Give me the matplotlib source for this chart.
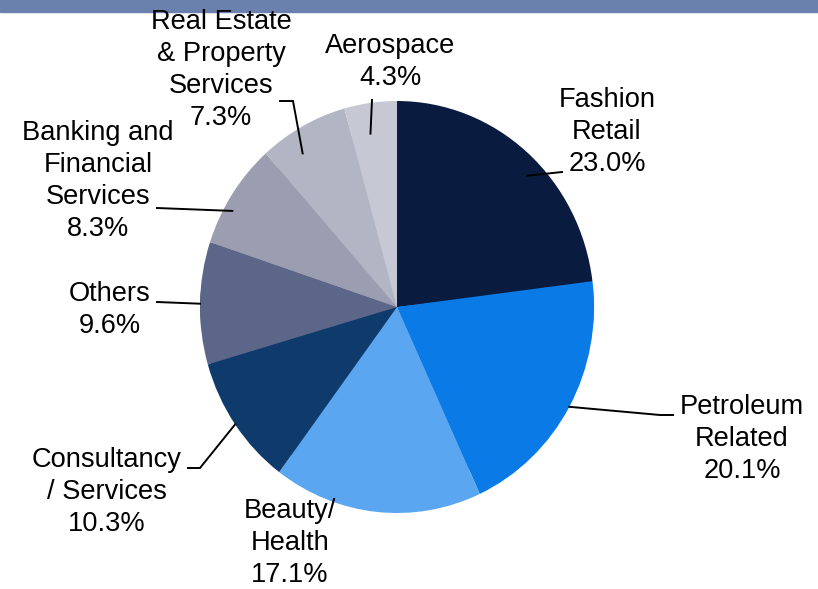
import matplotlib
matplotlib.use('Agg')
import matplotlib.pyplot as plt
import numpy as np

plt.rcParams['font.family'] = ['Liberation Sans', 'DejaVu Sans']

sectors = ['Fashion\nRetail', 'Petroleum\nRelated', 'Beauty/\nHealth',
           'Consultancy\n/ Services', 'Others', 'Banking and\nFinancial\nServices',
           'Real Estate\n& Property\nServices', 'Aerospace']
shares = [23.0, 20.1, 17.1, 10.3, 9.6, 8.3, 7.3, 4.3]
colors = ['#091c3f', '#0a7ae6', '#5aa6f0', '#0f3a6c',
          '#5b6688', '#9b9eb0', '#b2b5c3', '#c6c8d3']

W, H = 818, 589
fig = plt.figure(figsize=(W / 100, H / 100), dpi=100)

# banner strip along the top edge
fig.patches.append(plt.Rectangle((0, 1 - 12 / H), 1, 12 / H, transform=fig.transFigure,
                                 color='#6a80ad', zorder=0))

# pie centre and radii in pixels (image y measured from the top)
cx, cy = 397, 307
rx, ry_top, ry_bot = 197, 175, 206

def half_axes(bottom_px, height_px, ylim):
    a = fig.add_axes([(cx - rx) / W, bottom_px / H, 2 * rx / W, height_px / H])
    a.pie(shares, colors=colors, startangle=90, counterclock=False,
          wedgeprops=dict(linewidth=0))
    a.set_aspect('auto')
    a.set_xlim(-1, 1)
    a.set_ylim(*ylim)
    a.axis('off')
    return a

ax_top = half_axes(H - cy, ry_top, (0, 1))
ax_bot = half_axes(H - cy - ry_bot, ry_bot, (-1, 0))

# overlay for labels and leader lines, in image pixels
ov = fig.add_axes([0, 0, 1, 1], zorder=5)
ov.set_xlim(0, W)
ov.set_ylim(H, 0)
ov.axis('off')

# label block centre, then leader path from label side (None = no leader)
layout = [
    ((607, 132), [(562, 172)]),
    ((742, 439), [(673, 415), (660, 415)]),
    ((290, 543), None),
    ((107, 492), [(188, 468), (200, 468)]),
    ((110, 310), [(157, 302)]),
    ((98, 181), [(157, 208)]),
    ((221, 70), [(280, 101), (293, 101)]),
    ((390, 62), [(372, 100)]),
]

cum = np.cumsum([0] + shares)
for i, (name, val) in enumerate(zip(sectors, shares)):
    (tx, ty), path = layout[i]
    ov.text(tx, ty, f'{name}\n{val:.1f}%', ha='center', va='center',
            multialignment='center', fontsize=19.6, linespacing=1.3, color='black')
    if path is None:
        continue
    # mid angle of the wedge on the pie's own axes
    mid = np.deg2rad(90 - 360 * (cum[i] + val / 2) / cum[-1])
    px, py = np.cos(mid), np.sin(mid)
    src = ax_top if py >= 0 else ax_bot
    dx, dy = src.transData.transform((px, py))
    pts = path + [(dx, H - dy)]
    ov.plot([p[0] for p in pts], [p[1] for p in pts], color='black', lw=1.4,
            solid_joinstyle='miter')

fig.savefig('out.png', dpi=100)
